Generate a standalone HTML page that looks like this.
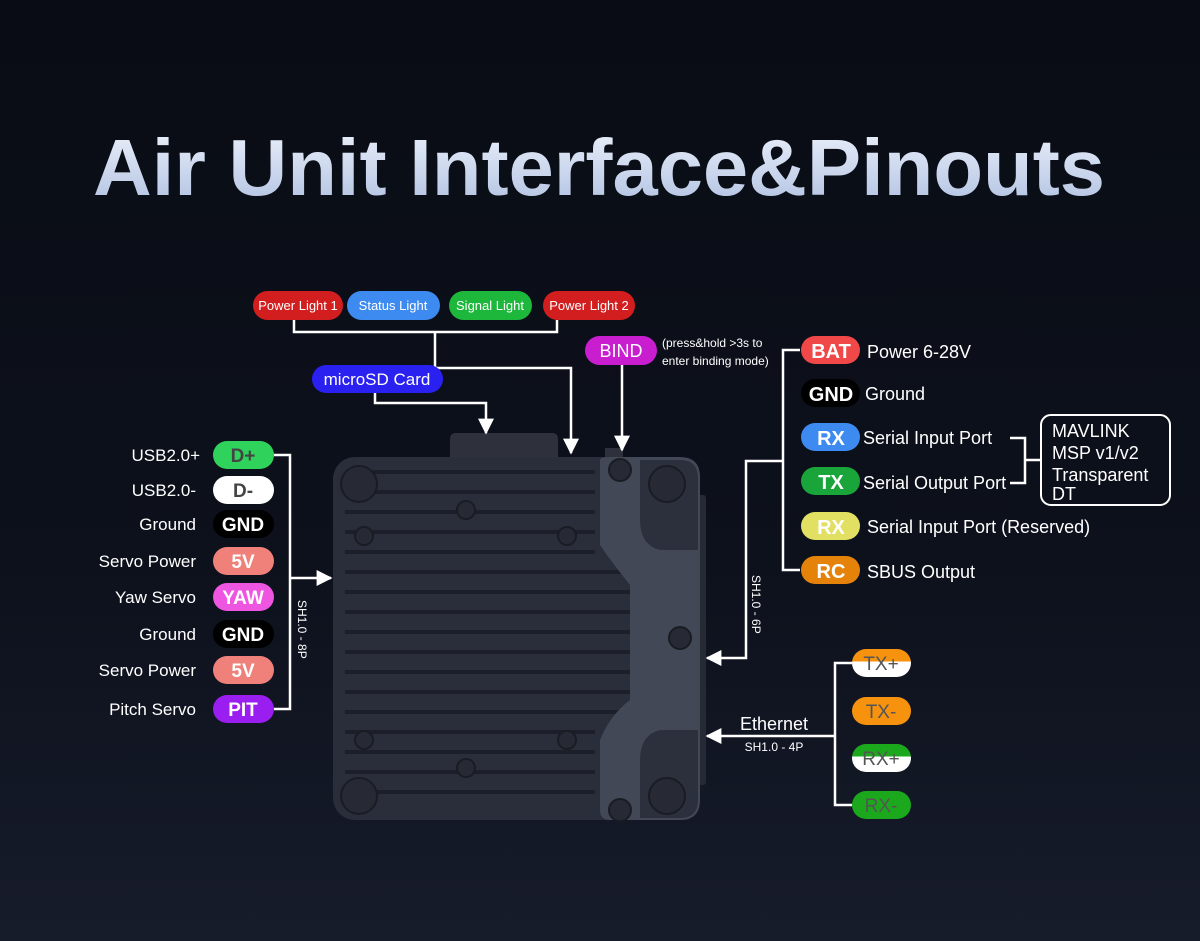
<!DOCTYPE html>
<html><head><meta charset="utf-8"><style>
html,body{margin:0;padding:0;background:#0b0e16}
svg{display:block}
text{font-family:"Liberation Sans",sans-serif}
</style></head><body>
<svg width="1200" height="941" viewBox="0 0 1200 941" xmlns="http://www.w3.org/2000/svg">
<defs>
<linearGradient id="bg" x1="0" y1="0" x2="0" y2="1"><stop offset="0" stop-color="#090c14"/><stop offset="0.6" stop-color="#0d111c"/><stop offset="1" stop-color="#171c2b"/></linearGradient>
<linearGradient id="tt" x1="0" y1="0" x2="0" y2="1"><stop offset="0" stop-color="#eef3fc"/><stop offset="1" stop-color="#aebfe0"/></linearGradient>
<linearGradient id="txp" x1="0" y1="0" x2="0" y2="1"><stop offset="0.45" stop-color="#f7920f"/><stop offset="0.45" stop-color="#fff"/></linearGradient>
<linearGradient id="rxp" x1="0" y1="0" x2="0" y2="1"><stop offset="0.45" stop-color="#1ca81c"/><stop offset="0.45" stop-color="#fff"/></linearGradient>
<marker id="ah" viewBox="0 0 10 10" refX="9" refY="5" markerWidth="16" markerHeight="16" markerUnits="userSpaceOnUse" orient="auto"><path d="M0,0L10,5L0,10z" fill="#fff"/></marker>
</defs>
<rect width="1200" height="941" fill="url(#bg)"/>
<text x="93" y="195" font-size="80" font-weight="bold" fill="url(#tt)" textLength="1012" lengthAdjust="spacingAndGlyphs">Air Unit Interface&amp;Pinouts</text>

<!-- device -->
<rect x="450" y="433" width="108" height="30" rx="5" fill="#2e313c"/>
<rect x="605" y="448" width="18" height="12" fill="#2e313c"/>
<rect x="690" y="495" width="16" height="290" rx="3" fill="#262a35"/>
<rect x="333" y="457" width="367" height="363" rx="22" fill="#2a2e3b"/>
<g fill="#1c1f29">
<rect x="345" y="470" width="250" height="4"/><rect x="345" y="490" width="250" height="4"/>
<rect x="345" y="510" width="250" height="4"/><rect x="345" y="530" width="250" height="4"/>
<rect x="345" y="550" width="250" height="4"/><rect x="345" y="570" width="280" height="4"/>
<rect x="345" y="590" width="290" height="4"/><rect x="345" y="610" width="290" height="4"/>
<rect x="345" y="630" width="290" height="4"/><rect x="345" y="650" width="290" height="4"/>
<rect x="345" y="670" width="290" height="4"/><rect x="345" y="690" width="290" height="4"/>
<rect x="345" y="710" width="280" height="4"/><rect x="345" y="730" width="250" height="4"/>
<rect x="345" y="750" width="250" height="4"/><rect x="345" y="770" width="250" height="4"/>
<rect x="345" y="790" width="250" height="4"/>
</g>
<path d="M600,460 Q600,457 610,457 L680,457 Q700,457 700,477 L700,800 Q700,820 680,820 L610,820 Q600,820 600,810 L600,740 Q610,715 630,700 L630,585 Q610,560 600,545 Z" fill="#434856"/>
<path d="M640,460 L680,460 Q698,460 698,478 L698,550 L660,550 Q640,545 640,520 Z" fill="#2c303c"/>
<path d="M640,818 L680,818 Q698,818 698,800 L698,730 L660,730 Q640,735 640,760 Z" fill="#2c303c"/>
<g fill="#272a35" stroke="#1a1c24" stroke-width="2">
<circle cx="359" cy="484" r="18"/><circle cx="667" cy="484" r="18"/>
<circle cx="359" cy="796" r="18"/><circle cx="667" cy="796" r="18"/>
<circle cx="620" cy="470" r="11"/><circle cx="620" cy="810" r="11"/><circle cx="680" cy="638" r="11"/>
<circle cx="466" cy="510" r="9"/><circle cx="466" cy="768" r="9"/>
<circle cx="364" cy="536" r="9"/><circle cx="567" cy="536" r="9"/>
<circle cx="364" cy="740" r="9"/><circle cx="567" cy="740" r="9"/>
</g>

<!-- connectors -->
<g stroke="#fff" stroke-width="2.5" fill="none">
<path d="M274,455 H290 V709 H274"/>
<path d="M290,578 H331" marker-end="url(#ah)"/>
<path d="M294,320 V332 H557 V320"/>
<path d="M435,332 V368 H571 V453" marker-end="url(#ah)"/>
<path d="M375,393 V403 H486 V433" marker-end="url(#ah)"/>
<path d="M622,364 V450" marker-end="url(#ah)"/>
<path d="M800,350 H783 V570 H800"/>
<path d="M783,461 H746 V658 H707" marker-end="url(#ah)"/>
<path d="M1010,438 H1025 V483 H1010 M1025,460 H1042"/>
<path d="M852,663 H835 V805 H852 M835,736 H707" marker-end="url(#ah)"/>
</g>
<rect x="1041" y="415" width="129" height="90" rx="10" fill="none" stroke="#fff" stroke-width="2"/>
<g fill="#fff" font-size="18"><text x="1052" y="437">MAVLINK</text><text x="1052" y="459">MSP v1/v2</text><text x="1052" y="481">Transparent</text><text x="1052" y="500">DT</text></g>

<!-- top pills -->
<g font-size="13" fill="#fff" text-anchor="middle">
<rect x="253" y="291" width="90" height="29" rx="14.5" fill="#d21e1e"/><text x="298" y="310">Power Light 1</text>
<rect x="347" y="291" width="93" height="29" rx="14.5" fill="#3d8bf0"/><text x="393" y="310">Status Light</text>
<rect x="449" y="291" width="83" height="29" rx="14.5" fill="#1db83b"/><text x="490" y="310">Signal Light</text>
<rect x="543" y="291" width="92" height="29" rx="14.5" fill="#d21e1e"/><text x="589" y="310">Power Light 2</text>
</g>
<rect x="312" y="365" width="131" height="28" rx="14" fill="#2a20f0"/><text x="377" y="385" font-size="17" fill="#fff" text-anchor="middle">microSD Card</text>
<rect x="585" y="336" width="72" height="29" rx="14.5" fill="#c81ecf"/><text x="621" y="357" font-size="18" fill="#fff" text-anchor="middle">BIND</text>
<text x="662" y="347" font-size="12" fill="#fff">(press&amp;hold &gt;3s to</text>
<text x="662" y="365" font-size="12" fill="#fff">enter binding mode)</text>

<!-- left pins -->
<g font-size="17" fill="#fff" text-anchor="end">
<text x="200" y="461">USB2.0+</text><text x="196" y="496">USB2.0-</text><text x="196" y="530">Ground</text>
<text x="196" y="567">Servo Power</text><text x="196" y="603">Yaw Servo</text><text x="196" y="640">Ground</text>
<text x="196" y="676">Servo Power</text><text x="196" y="715">Pitch Servo</text>
</g>
<g>
<rect x="213" y="441" width="61" height="28" rx="14" fill="#2fd25a"/>
<rect x="213" y="476" width="61" height="28" rx="14" fill="#fff"/>
<rect x="213" y="510" width="61" height="28" rx="14" fill="#000"/>
<rect x="213" y="547" width="61" height="28" rx="14" fill="#f0807a"/>
<rect x="213" y="583" width="61" height="28" rx="14" fill="#ee55e0"/>
<rect x="213" y="620" width="61" height="28" rx="14" fill="#000"/>
<rect x="213" y="656" width="61" height="28" rx="14" fill="#f0807a"/>
<rect x="213" y="695" width="61" height="28" rx="14" fill="#9a1ef0"/>
</g>
<g font-size="19" font-weight="bold" text-anchor="middle">
<text x="243" y="462" fill="#444">D+</text><text x="243" y="497" fill="#444">D-</text>
<text x="243" y="531" fill="#fff">GND</text><text x="243" y="568" fill="#fff">5V</text>
<text x="243" y="604" fill="#fff">YAW</text><text x="243" y="641" fill="#fff">GND</text>
<text x="243" y="677" fill="#fff">5V</text><text x="243" y="716" fill="#fff">PIT</text>
</g>
<text transform="translate(298,600) rotate(90)" font-size="12" fill="#fff">SH1.0 - 8P</text>

<!-- right pins -->
<g>
<rect x="801" y="336" width="59" height="28" rx="14" fill="#f04848"/>
<rect x="801" y="379" width="59" height="28" rx="14" fill="#000"/>
<rect x="801" y="423" width="59" height="28" rx="14" fill="#3d8bf0"/>
<rect x="801" y="467" width="59" height="28" rx="14" fill="#1aa53a"/>
<rect x="801" y="512" width="59" height="28" rx="14" fill="#e2e062"/>
<rect x="801" y="556" width="59" height="28" rx="14" fill="#e5820a"/>
</g>
<g font-size="20" font-weight="bold" fill="#fff" text-anchor="middle">
<text x="831" y="358">BAT</text><text x="831" y="401">GND</text><text x="831" y="445">RX</text>
<text x="831" y="489">TX</text><text x="831" y="534">RX</text><text x="831" y="578">RC</text>
</g>
<g font-size="18" fill="#fff">
<text x="867" y="358">Power 6-28V</text><text x="865" y="400">Ground</text>
<text x="863" y="444">Serial Input Port</text><text x="863" y="489">Serial Output Port</text>
<text x="867" y="533">Serial Input Port (Reserved)</text><text x="867" y="578">SBUS Output</text>
</g>
<text transform="translate(752,575) rotate(90)" font-size="12" fill="#fff">SH1.0 - 6P</text>

<!-- ethernet -->
<rect x="852" y="649" width="59" height="28" rx="14" fill="url(#txp)"/>
<rect x="852" y="697" width="59" height="28" rx="14" fill="#f7920f"/>
<rect x="852" y="744" width="59" height="28" rx="14" fill="url(#rxp)"/>
<rect x="852" y="791" width="59" height="28" rx="14" fill="#1ca81c"/>
<g font-size="19" fill="#555" text-anchor="middle">
<text x="881" y="670">TX+</text><text x="881" y="718">TX-</text><text x="881" y="765">RX+</text><text x="881" y="812">RX-</text>
</g>
<text x="774" y="730" font-size="18" fill="#fff" text-anchor="middle">Ethernet</text>
<text x="774" y="751" font-size="12" fill="#fff" text-anchor="middle">SH1.0 - 4P</text>
</svg>
</body></html>
